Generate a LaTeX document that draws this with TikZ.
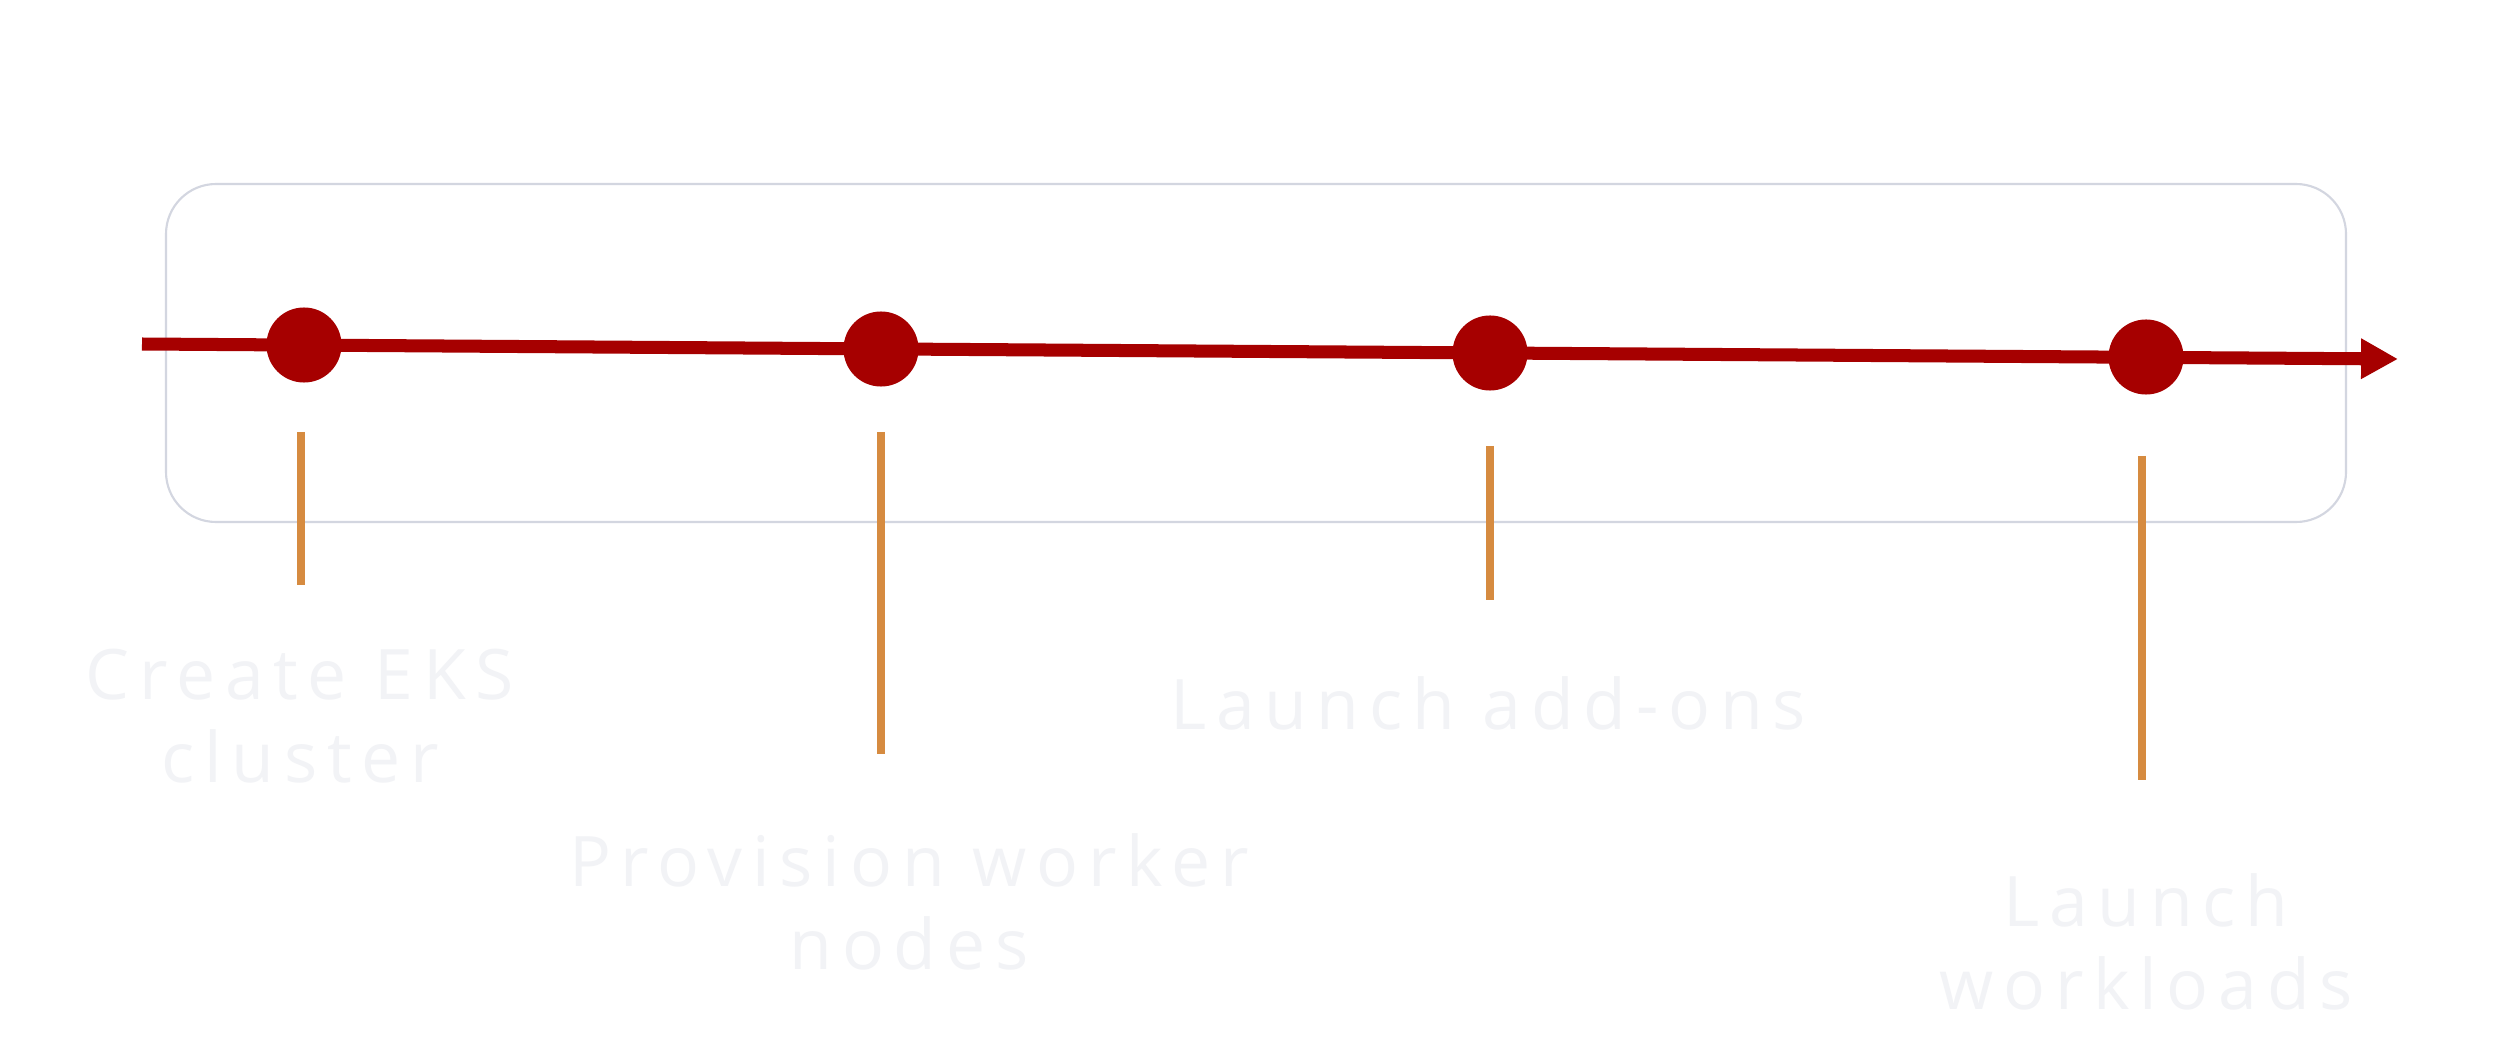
\documentclass[tikz,border=0pt]{standalone}
\usepackage{fontspec}
\setmainfont{Open Sans}[LetterSpace=14]
\usetikzlibrary{arrows.meta}
\definecolor{tlred}{HTML}{A60000}
\definecolor{tlorange}{HTML}{D68B40}
\definecolor{boxline}{HTML}{D3D6E0}
\definecolor{txt}{HTML}{F2F3F6}
\tikzset{
  frame/.style={draw=boxline, line width=0.6pt, rounded corners=0.5cm},
  timeline/.style={draw=tlred, line width=3.7pt, -{Triangle[length=10.5pt,width=10.8pt]}},
  milestone/.style={circle, fill=tlred, minimum size=0.75cm, inner sep=0pt},
  tick/.style={draw=tlorange, line width=2.2pt},
  lbl/.style={text=txt, align=center, font=\fontsize{19.8}{23.8}\selectfont}
}
\begin{document}
\begin{tikzpicture}[x=0.01cm, y=-0.01cm]
\useasboundingbox (0,0) rectangle (2500,1049);
\fill[white] (0,0) rectangle (2500,1049);
\draw[frame] (166,184) rectangle (2346,522);
\coordinate (start) at (142,344);
\coordinate (end) at (2398,359);
\draw[timeline] (start) -- (end);
\node[milestone] (m1) at (304,345) {};
\node[milestone] (m2) at (881,349) {};
\node[milestone] (m3) at (1490,353) {};
\node[milestone] (m4) at (2146,357) {};
\coordinate (t1a) at (301,432); \coordinate (t1b) at (301,585);
\coordinate (t2a) at (881,432); \coordinate (t2b) at (881,754);
\coordinate (t3a) at (1490,446); \coordinate (t3b) at (1490,600);
\coordinate (t4a) at (2142,456); \coordinate (t4b) at (2142,780);
\draw[tick] (t1a) -- (t1b);
\draw[tick] (t2a) -- (t2b);
\draw[tick] (t3a) -- (t3b);
\draw[tick] (t4a) -- (t4b);
\node[lbl] (l1) at (300,716) {Create EKS\\cluster};
\node[lbl] (l2) at (909,902) {Provision worker\\nodes};
\node[lbl] (l3) at (1488,703) {Launch add-ons};
\node[lbl] (l4) at (2146,942) {Launch\\workloads};
\end{tikzpicture}
\end{document}
